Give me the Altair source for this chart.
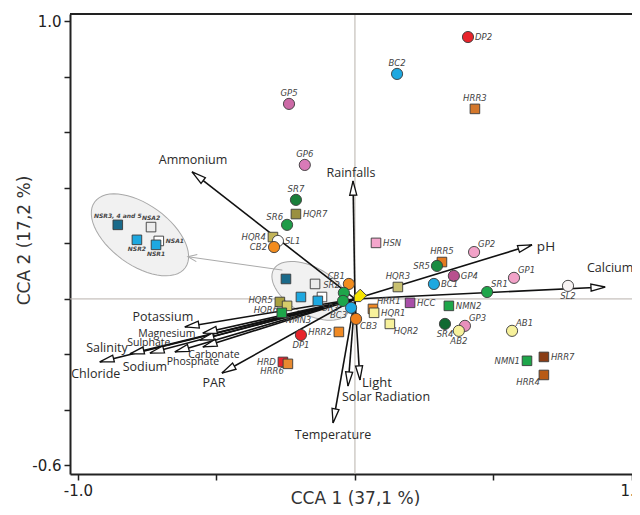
import math
import numpy as np
import pandas as pd
import altair as alt

# ---------------- data ----------------
site_names = ["DP2", "BC2", "HRR3", "GP5", "GP6", "SR7", "HQR7", "SR6", "HQR4", "SL1", "CB2",
              "CB1", "SR2", "SR3", "", "BC3", "CB3", "HRR2", "DP1", "HRR1", "HQR1", "HQR2",
              "HQR3", "HCC", "HSN", "HRR5", "SR5", "BC1", "GP4", "GP2", "GP1", "SR1", "SL2",
              "NMN2", "GP3", "SR4", "AB2", "AB1", "NMN1", "HRR7", "HRR4",
              "HQR5", "HQR6", "NMN3", "", "", "", "", "", "HRD", "HRR6",
              "NSR3, 4 and 5", "NSA2", "NSR2", "NSA1", "NSR1"]
site_x = [0.408, 0.152, 0.433, -0.238, -0.181, -0.213, -0.213, -0.245, -0.296, -0.278, -0.292,
          -0.022, -0.040, -0.043, 0.014, -0.014, 0.004, -0.058, -0.195, 0.065, 0.069, 0.126,
          0.155, 0.199, 0.076, 0.314, 0.296, 0.285, 0.357, 0.430, 0.574, 0.477, 0.769,
          0.339, 0.397, 0.325, 0.375, 0.567, 0.621, 0.682, 0.682,
          -0.271, -0.245, -0.264, -0.249, -0.144, -0.195, -0.119, -0.134, -0.260, -0.242,
          -0.856, -0.736, -0.787, -0.708, -0.718]
site_y = [0.944, 0.811, 0.685, 0.703, 0.483, 0.357, 0.306, 0.267, 0.223, 0.209, 0.187,
          0.054, 0.022, -0.007, 0.007, -0.032, -0.072, -0.119, -0.130, -0.036, -0.050, -0.090,
          0.043, -0.014, 0.202, 0.133, 0.119, 0.054, 0.083, 0.169, 0.076, 0.025, 0.047,
          -0.025, -0.097, -0.090, -0.115, -0.115, -0.223, -0.209, -0.274,
          -0.011, -0.025, -0.050, 0.072, 0.054, 0.007, 0.007, -0.007, -0.227, -0.234,
          0.267, 0.259, 0.213, 0.209, 0.195]
site_shape = ["circle", "circle", "square", "circle", "circle", "circle", "square", "circle", "square", "circle", "circle",
              "circle", "circle", "circle", "arrow", "circle", "circle", "square", "circle", "square", "square", "square",
              "square", "square", "square", "square", "circle", "circle", "circle", "circle", "circle", "circle", "circle",
              "square", "circle", "circle", "circle", "circle", "square", "square", "square",
              "square", "square", "square", "square", "square", "square", "square", "square", "square", "square",
              "square", "square", "square", "square", "square"]
site_color = ["#e8242b", "#1ea8e0", "#d4782c", "#cc6aa6", "#d97ab8", "#1a7f3a", "#9a9040", "#1f9c48", "#c2b45a", "#ffffff", "#f28c1e",
              "#f28c1e", "#1ea64a", "#1ea64a", "#f5e400", "#1ea8e0", "#ef7f1a", "#f08a24", "#e8242b", "#f08a24", "#f7f19b", "#f7f19b",
              "#c8c070", "#a84fa8", "#f4a6cc", "#e47a20", "#1a8c42", "#1ea8e0", "#b8508e", "#f2a2c8", "#f2a2c8", "#1ea64a", "#f8f4f4",
              "#1ea64a", "#e890bc", "#116a32", "#f7f19b", "#f7f19b", "#1ea64a", "#8a3c14", "#b85a14",
              "#a8a040", "#d6cc6a", "#1ea64a", "#1a6a8a", "#ececec", "#1ea8e0", "#ffffff", "#1ea8e0", "#e8242b", "#e88a30",
              "#1a6a8a", "#ececec", "#1ea8e0", "#ffffff", "#1ea8e0"]
site_group = ["main"] * 51 + ["inset"] * 5

env_names = ["Ammonium", "Rainfalls", "pH", "Calcium", "Light", "Solar Radiation", "Temperature", "PAR",
             "Chloride", "Salinity", "Sodium", "Phosphate", "Carbonate", "Sulphate", "Magnesium", "Potassium"]
env_x = [-0.588, -0.007, 0.639, 0.903, 0.018, -0.025, -0.079, -0.480,
         -0.921, -0.812, -0.740, -0.650, -0.549, -0.560, -0.549, -0.614]
env_y = [0.458, 0.425, 0.195, 0.043, -0.292, -0.314, -0.447, -0.267,
         -0.227, -0.198, -0.195, -0.191, -0.173, -0.148, -0.123, -0.101]

# ---------------- layout ----------------
site_anchor = ["E", "N", "N", "N", "N", "N", "E", "NW", "W", "E", "W",
               "NW", "NW", "SW", "", "SW", "SE", "W", "S", "NE", "E", "SE",
               "N", "E", "E", "N", "W", "E", "E", "NE", "NE", "NE", "S",
               "E", "NE", "S", "S", "NE", "W", "E", "SW",
               "WU", "WD", "SE", "", "", "", "", "", "W", "SW",
               "N", "N", "S", "E", "S"]
env_label_dx = [1, -2, 14, 5, 17, 38, 0, -8, -4, -23, -5, 18, 11, -51, -36, -22]
env_label_dy = [-12, -8, 2, -19, 3, 11, 12, 10, 12, -6, 14, 10, 8, 3, 1, -10]
env_label_size = [12.5, 12.5, 13.5, 12.5, 13, 12.5, 12.5, 12.5, 12.5, 12.5, 12.5, 10.5, 10.5, 10.5, 10.5, 12.5]

W, H = 562, 460
XDOM = [-1.0285, 1.0]
YDOM = [-0.631, 1.027]
PX = W / (XDOM[1] - XDOM[0])
PY = H / (YDOM[1] - YDOM[0])

xs = alt.Scale(domain=XDOM, nice=False, zero=False)
ys = alt.Scale(domain=YDOM, nice=False, zero=False)
XT = "CCA 1 (37,1 %)"
YT = "CCA 2 (17,2 %)"

xaxis = alt.Axis(values=[-1, -0.5, 0, 0.5, 1],
                 labelExpr="datum.value == -1 ? '-1.0' : (datum.value == 1 ? '1.0' : '')",
                 grid=False, tickSize=6, tickColor="#222", tickWidth=1.5, domainColor="#222", domainWidth=2,
                 labelFontSize=15, labelFont="DejaVu Sans", labelColor="#222", labelFlush=False,
                 labelPadding=3, titleFontSize=17, titleFont="DejaVu Sans", titleFontWeight="normal",
                 titleColor="#333", titleX=285, titleY=29, titleBaseline="alphabetic", titleAlign="center")
yaxis = alt.Axis(values=[-0.6, -0.4, -0.2, 0, 0.2, 0.4, 0.6, 0.8, 1.0],
                 labelExpr="datum.value == 1 ? '1.0' : (datum.value == -0.6 ? '-0.6' : '')",
                 grid=False, tickSize=6, tickColor="#222", tickWidth=1.5, domainColor="#222", domainWidth=2,
                 labelFontSize=15, labelFont="DejaVu Sans", labelColor="#222", labelFlush=False,
                 labelPadding=3, titleFontSize=17, titleFont="DejaVu Sans", titleFontWeight="normal",
                 titleColor="#333", titleX=-46, titleY=226, titleAngle=270, titleBaseline="middle",
                 titleAlign="center")


def X(f):
    return alt.X(f, type="quantitative", scale=xs, axis=xaxis, title=XT)


def Y(f):
    return alt.Y(f, type="quantitative", scale=ys, axis=yaxis, title=YT)


# ---------------- frames ----------------
sites = pd.DataFrame({"name": site_names, "x": site_x, "y": site_y, "shape": site_shape,
                      "color": site_color, "group": site_group, "anchor": site_anchor})
house = "M-0.7,-1L0.7,-1L0.7,0.3L0,1L-0.7,0.3Z"
sites["sym"] = sites["shape"].map({"circle": "circle", "square": "square", "arrow": house})
sites["size"] = sites["shape"].map({"circle": 125, "square": 92, "arrow": 170})
sites["angle"] = sites["shape"].map({"circle": 0, "square": 0, "arrow": 45})

env = pd.DataFrame({"name": env_names, "x": env_x, "y": env_y, "x0": 0.0, "y0": 0.0,
                    "fs": env_label_size})
env["angle"] = [math.degrees(math.atan2(a * PX, b * PY)) % 360 for a, b in zip(env_x, env_y)]
env["lx"] = [a + d / PX for a, d in zip(env_x, env_label_dx)]
env["ly"] = [b - d / PY for b, d in zip(env_y, env_label_dy)]


# annotations: ellipses around the NS group and its enlarged inset
def ellipse_path(ratio, n=60):
    t = np.linspace(0, 2 * np.pi, n, endpoint=False)
    pts = [f"{math.cos(a):.4f},{ratio * math.sin(a):.4f}" for a in t]
    return "M" + "L".join(pts) + "Z"


ell = pd.DataFrame({"x": [-0.776, -0.159], "y": [0.231, 0.029],
                    "size": [112 ** 2, 86 ** 2], "angle": [36, 30]})
ell_shape = ellipse_path(0.54)

conn = pd.DataFrame({"x": [-0.262], "y": [0.104], "x2": [-0.603], "y2": [0.152]})
conn["angle"] = [math.degrees(math.atan2((c.x2 - c.x) * PX, (c.y2 - c.y) * PY)) % 360 for c in conn.itertuples()]

zero = pd.DataFrame({"v": [0.0]})

# ---------------- layers ----------------
hline = alt.Chart(zero).mark_rule(color="#b8b2ac", strokeWidth=1).encode(
    y=Y("v"), x=alt.value(0), x2=alt.value(W))
vline = alt.Chart(zero).mark_rule(color="#b8b2ac", strokeWidth=1).encode(
    x=X("v"), y=alt.value(0), y2=alt.value(H))
topline = alt.Chart(zero).mark_rule(color="#222", strokeWidth=2).encode(
    y=alt.value(0), x=alt.value(0), x2=alt.value(W))

ellipses = alt.Chart(ell).mark_point(shape=ell_shape, filled=True, fill="#f1f1f1", stroke="#a8a8a8",
                                      strokeWidth=1, opacity=1).encode(
    x=X("x"), y=Y("y"), size=alt.Size("size:Q", scale=None), angle=alt.Angle("angle:Q", scale=None))

conn_line = alt.Chart(conn).mark_rule(color="#aaaaaa", strokeWidth=1).encode(
    x=X("x"), y=Y("y"), x2="x2", y2="y2")
conn_head = alt.Chart(conn).mark_point(shape="M-0.6,1.5L0,0L0.6,1.5", filled=False, stroke="#aaaaaa",
                                        strokeWidth=1, size=144, opacity=1).encode(
    x=X("x2"), y=Y("y2"), angle=alt.Angle("angle:Q", scale=None))

arrows = alt.Chart(env).mark_rule(color="#111", strokeWidth=1.6).encode(
    x=X("x0"), y=Y("y0"), x2="x", y2="y")
heads = alt.Chart(env).mark_point(shape="M0,0L0.5,2L-0.5,2Z", filled=True, fill="white", stroke="#111",
                                   strokeWidth=1.3, size=200, opacity=1).encode(
    x=X("x"), y=Y("y"), angle=alt.Angle("angle:Q", scale=None))

points = alt.Chart(sites).mark_point(filled=True, opacity=1, stroke="#3a3a3a", strokeWidth=0.9).encode(
    x=X("x"), y=Y("y"),
    shape=alt.Shape("sym:N", scale=None),
    fill=alt.Fill("color:N", scale=None),
    size=alt.Size("size:Q", scale=None),
    angle=alt.Angle("angle:Q", scale=None))

ANCH = {
    "N": dict(align="center", baseline="bottom", dx=0, dy=-6),
    "S": dict(align="center", baseline="top", dx=0, dy=6),
    "E": dict(align="left", baseline="middle", dx=7, dy=0),
    "W": dict(align="right", baseline="middle", dx=-7, dy=0),
    "WU": dict(align="right", baseline="middle", dx=-7, dy=-2),
    "WD": dict(align="right", baseline="middle", dx=-9, dy=4),
    "NE": dict(align="left", baseline="bottom", dx=4, dy=-3),
    "NW": dict(align="right", baseline="bottom", dx=-4, dy=-3),
    "SE": dict(align="left", baseline="top", dx=4, dy=3),
    "SW": dict(align="right", baseline="top", dx=-4, dy=3),
}
label_layers = []
for grp, fsz, fw in [("main", 8.5, "normal"), ("inset", 6, "bold")]:
    for a, props in ANCH.items():
        sub = sites[(sites["anchor"] == a) & (sites["group"] == grp)]
        if len(sub) == 0:
            continue
        label_layers.append(
            alt.Chart(sub).mark_text(font="DejaVu Sans", fontStyle="italic", fontSize=fsz, fontWeight=fw,
                                     color="#444", **props).encode(
                x=X("x"), y=Y("y"), text="name:N"))

env_labels = alt.Chart(env).mark_text(font="Open Sans", color="#2a2a2a", align="center",
                                      baseline="middle").encode(
    x=X("lx"), y=Y("ly"), text="name:N", size=alt.Size("fs:Q", scale=None))

chart = alt.layer(hline, vline, ellipses, conn_line, conn_head, arrows, heads, points,
                  *label_layers, env_labels, topline).properties(
    width=W, height=H,
    autosize=alt.AutoSizeParams(type="none"),
    padding={"left": 62, "top": 6, "right": 0, "bottom": 33},
).configure_view(stroke=None)

chart.save("out.html", embed_options={"renderer": "svg", "actions": False})
